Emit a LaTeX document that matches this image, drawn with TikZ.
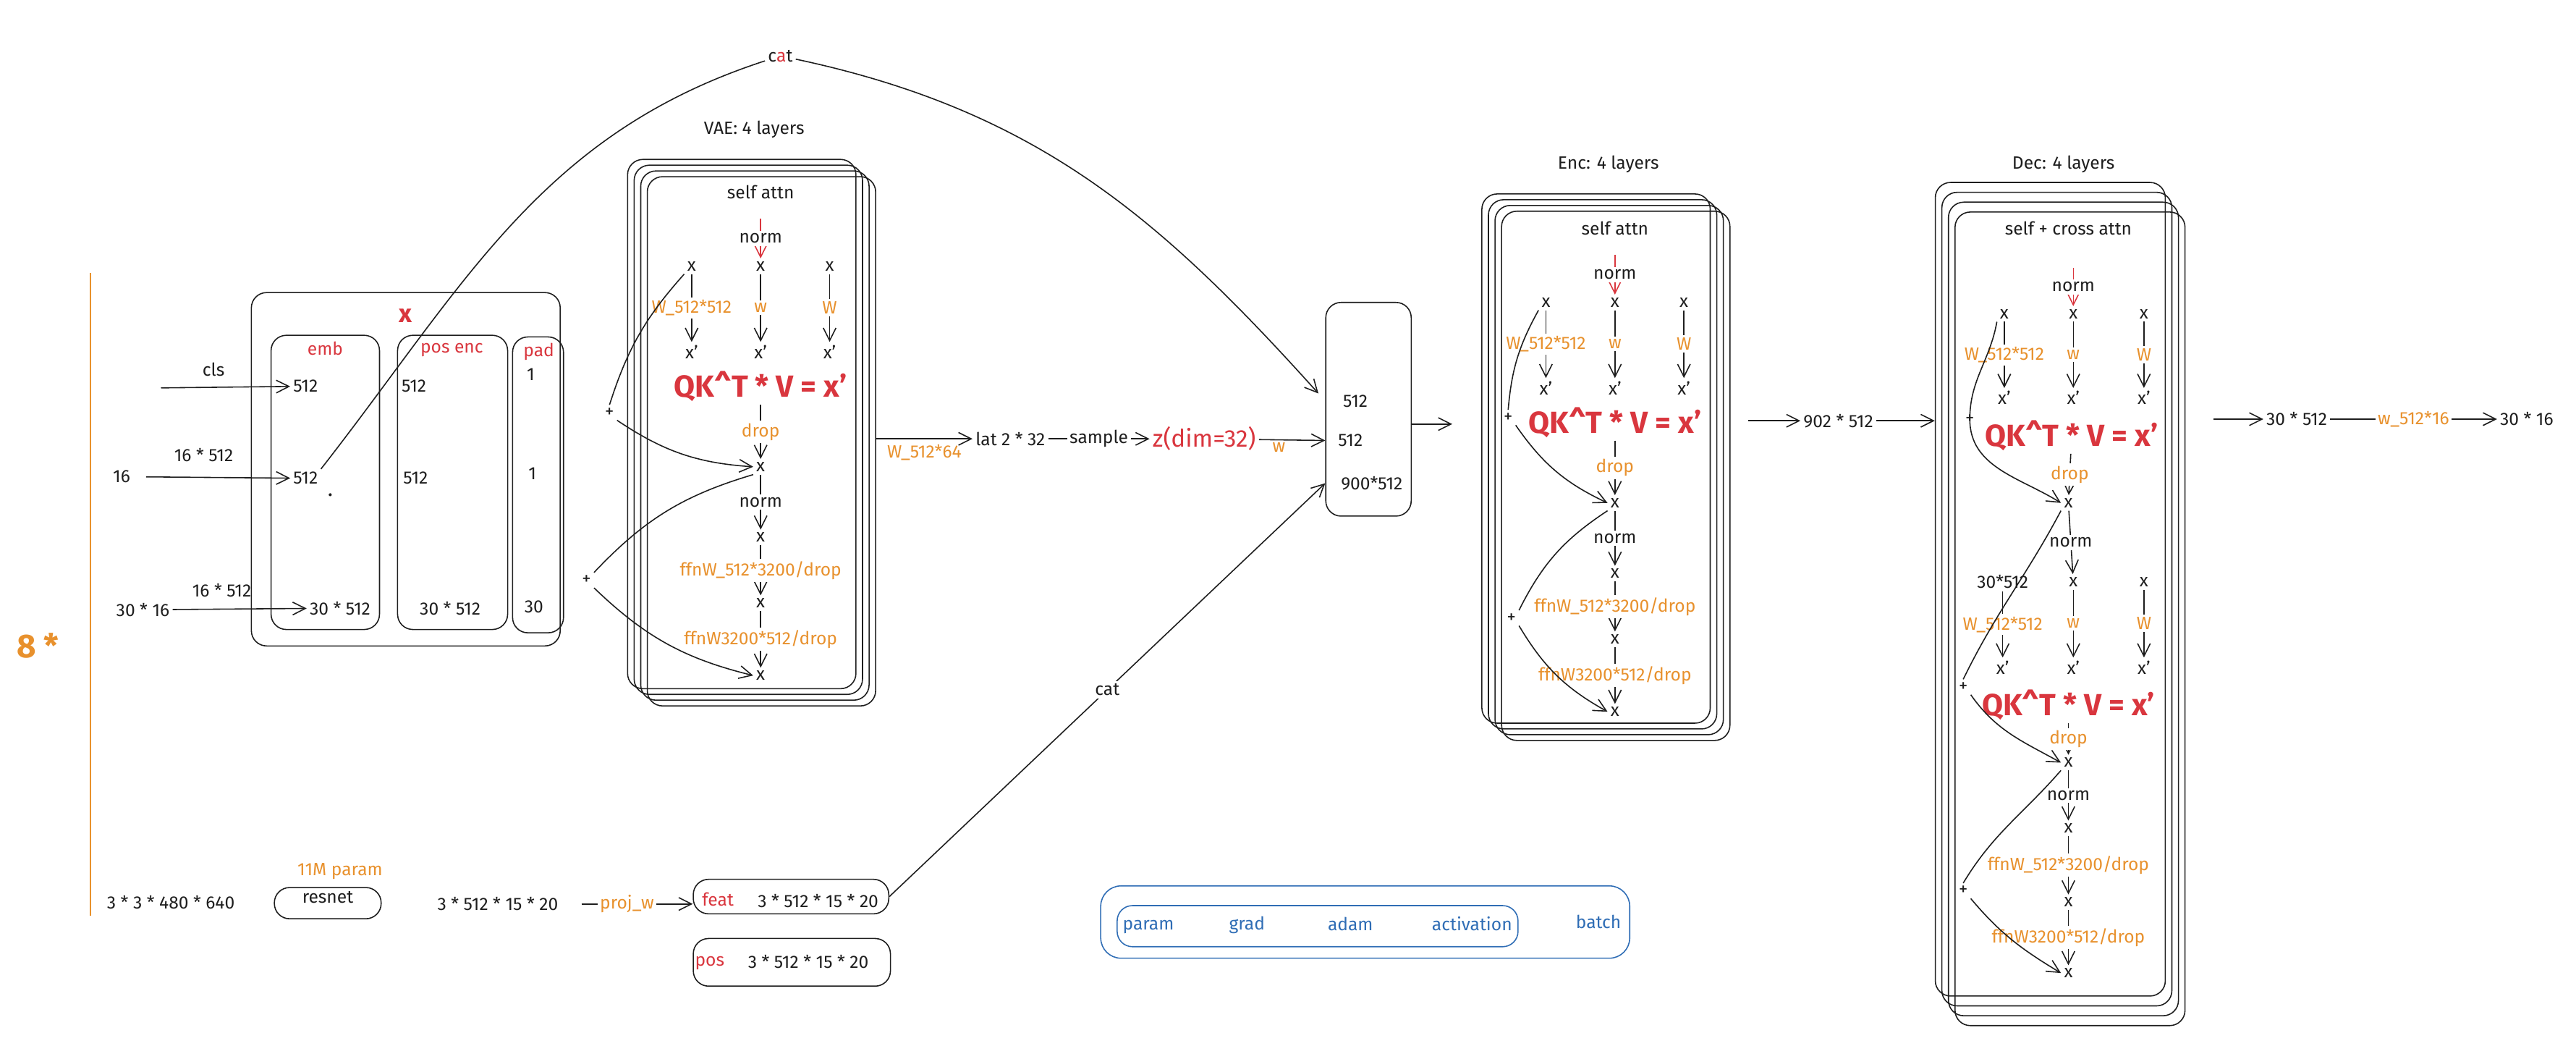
\documentclass[tikz,border=0pt]{standalone}
\usepackage{fontspec}
\setmainfont{Fira Sans}
\usetikzlibrary{arrows.meta,positioning,fit,calc}
\definecolor{Ink}{HTML}{1E1E1E}
\definecolor{Ochre}{HTML}{E8912D}
\definecolor{Brick}{HTML}{D9363E}
\definecolor{Cobalt}{HTML}{2F6DB5}
\tikzset{
  lbl/.style={font=\fontsize{7}{8}\selectfont, text=Ink, inner sep=1pt},
  olab/.style={lbl, text=Ochre},
  wlab/.style={olab, fill=white},
  redlab/.style={lbl, text=Brick},
  bluelab/.style={lbl, text=Cobalt},
  qkeq/.style={font=\fontsize{12}{13}\selectfont\bfseries, text=Brick, inner sep=1pt},
  skbox/.style={draw=#1, rounded corners=6pt, line width=0.45pt, inner sep=0pt},
  skbox/.default={Ink},
  barb/.style={-{Straight Barb[length=5pt,width=5pt]}, line width=0.45pt},
}

\begin{document}
\begin{tikzpicture}[x=0.0227cm, y=-0.0227cm, color=Ink, line width=0.45pt]
  \useasboundingbox (0,0) rectangle (1568,641);

  % repeat marker
  \draw[Ochre, line width=0.6pt] (55,166) -- (55,557);
  \node[font=\fontsize{13}{14}\selectfont\bfseries, text=Ochre] (rep) at (23,393) {8 *};

  % token embedding x
  \node[skbox, fit={(153,178) (341,393)}] (xbox) {};
  \node[skbox, fit={(165,204) (231,383)}] (emb) {};
  \node[skbox, fit={(242,204) (309,383)}] (pe) {};
  \node[skbox, fit={(312,205) (343,385)}] (pad) {};
  \node[redlab, font=\fontsize{10}{11}\selectfont\bfseries] (xlab) at (247,192) {x};
  \node[redlab] (emb-t) at (198,212) {emb};
  \node[redlab] (pe-t) at (275,213) {pos enc};
  \node[redlab] (pad-t) at (328,214) {pad};
  \node[lbl] (emb-a) at (186,235) {512};
  \node[lbl] (emb-b) at (186,291) {512};
  \node[lbl] (emb-c) at (207,370) {30 * 512};
  \node[lbl] (pe-a) at (252,235) {512};
  \node[lbl] (pe-b) at (253,291) {512};
  \node[lbl] (pe-c) at (274,370) {30 * 512};
  \node[lbl] (pad-a) at (323,228) {1};
  \node[lbl] (pad-b) at (324,288) {1};
  \node[lbl] (pad-c) at (325,369) {30};
  \fill (201,301) circle (0.6pt);

  % inputs
  \coordinate (cls-s) at (98,236);
  \node[lbl] (cls) at (130,225) {cls};
  \draw[barb] (cls-s) -- (emb-a);
  \node[lbl] (tok) at (74,290) {16};
  \node[lbl] (tok-dim) at (124,277) {16 * 512};
  \draw[barb, shorten <=5pt] (tok) -- (emb-b);
  \node[lbl] (act) at (87,371) {30 * 16};
  \node[lbl] (act-dim) at (135,359) {16 * 512};
  \draw[barb] (act) -- (emb-c);

  % VAE and encoder stacks
  \foreach \b/\cx/\cy/\bx/\by/\pax/\pay/\pbx/\pby/\ttl in
    {vae/463/162/382/97/371/251/357/353/VAE, enc/983/184/902/118/918/254/920/376/Enc}{
    \foreach \i in {0,...,3}
      \node[skbox, fit={(\bx+4*\i,\by+3.5*\i) (\bx+139+4*\i,\by+322+3.5*\i)}] (\b-box\i) {};
    \node[lbl] (\b-title) at (\cx-4,\by-18) {\ttl: 4 layers};
    \node[lbl] (\b-head) at (\cx,\cy-45) {self attn};
    \coordinate (\b-in) at (\cx,\cy-29);
    \foreach \c/\dx/\wl in {q/-42/W\_512*512, k/0/w, v/42/W}{
      \node[lbl] (\b-\c) at (\cx+\dx,\cy) {x};
      \node[lbl] (\b-\c-p) at (\cx+\dx,\cy+52) {x'};
      \draw[barb] (\b-\c) -- node[wlab] {\wl} (\b-\c-p);
    }
    \draw[barb, Brick] (\b-in) -- node[lbl, fill=white] {norm} (\b-k);
    \node[qkeq] (\b-eq) at (\cx,\cy+73) {QK\textasciicircum T * V = x'};
    \node[lbl] (\b-x1) at (\cx,\cy+122) {x};
    \node[lbl] (\b-x2) at (\cx,\cy+165) {x};
    \node[lbl] (\b-x3) at (\cx,\cy+205) {x};
    \node[lbl] (\b-x4) at (\cx,\cy+249) {x};
    \draw[barb] (\b-eq) -- node[wlab] {drop} (\b-x1);
    \draw[barb] (\b-x1) -- node[lbl, fill=white] {norm} (\b-x2);
    \draw[barb] (\b-x2) -- node[wlab] {ffnW\_512*3200/drop} (\b-x3);
    \draw[barb] (\b-x3) -- node[wlab] {ffnW3200*512/drop} (\b-x4);
    \node[lbl] (\b-pa) at (\pax,\pay) {+};
    \node[lbl] (\b-pb) at (\pbx,\pby) {+};
    \draw (\b-q.south west) to[bend right=12] (\b-pa.north);
    \draw[barb] (\b-pa.south east) to[bend right=15] (\b-x1.west);
    \draw (\b-x1.south west) to[bend right=15] (\b-pb.north east);
    \draw[barb] (\b-pb.south east) to[bend right=15] (\b-x4.west);
  }

  % latent
  \node[lbl] (lat) at (615,267) {lat 2 * 32};
  \node[font=\fontsize{9.5}{10}\selectfont, text=Brick, inner sep=1pt] (zlat) at (733,267) {z(dim=32)};
  \draw[barb] (vae-box3.east |- lat) -- node[olab, below=1pt] {W\_512*64} (lat);
  \draw[barb] (lat) -- node[lbl, fill=white] {sample} (zlat);

  % concat box
  \node[skbox, fit={(807,184) (859,314)}] (cc) {};
  \node[lbl] (cc-a) at (825,244) {512};
  \node[lbl] (cc-b) at (822,268) {512};
  \node[lbl] (cc-c) at (835,294) {900*512};
  \draw[barb] (zlat) -- node[olab, below, pos=0.3] {w} (cc.west |- cc-b);
  \node[lbl, fill=white] (cat1) at (475,34) {c\textcolor{Brick}{a}t};
  \draw (emb-b.north east) to[out=52, in=198] (cat1);
  \draw[barb, shorten >=4pt] (cat1) to[out=-12, in=132] (cc.west |- cc-a);
  \coordinate (enc-in) at (884,258);
  \draw[barb] (cc.east |- enc-in) -- (enc-in);

  % image features
  \node[lbl] (img) at (104,549) {3 * 3 * 480 * 640};
  \node[lbl, skbox, fit={(167,540) (232,559)}] (resnet) {resnet};
  \node[olab] (param) at (207,530) {11M param};
  \node[lbl] (fmap) at (303,550) {3 * 512 * 15 * 20};
  \node[skbox, fit={(422,535) (541,556)}] (feat) {};
  \node[redlab] (feat-t) at (437,547) {feat};
  \node[lbl] (feat-d) at (498,548) {3 * 512 * 15 * 20};
  \node[skbox, fit={(422,571) (542,600)}] (pos) {};
  \node[redlab] (pos-t) at (432,586) {pos};
  \node[lbl] (pos-d) at (492,585) {3 * 512 * 15 * 20};
  \draw[barb, shorten <=8pt] (fmap) -- node[wlab] {proj\_w} (feat.west |- fmap);
  \draw[barb] (feat.east) -- node[lbl, fill=white] (cat2) {cat} (cc.west |- cc-c);

  % memory legend
  \node[skbox=Cobalt, rounded corners=8pt, fit={(670,539) (992,583)}] (mem) {};
  \node[skbox=Cobalt, fit={(680,551) (924,576)}] (state) {};
  \node[bluelab] (l-param) at (699,564) {param};
  \node[bluelab] (l-grad) at (759,563) {grad};
  \node[bluelab] (l-adam) at (822,562) {adam};
  \node[bluelab] (l-act) at (896,562) {activation};
  \node[bluelab] (l-batch) at (973,561) {batch};

  % encoder out
  \node[lbl] (n902) at (1119,256) {902 * 512};
  \draw[barb, shorten <=7pt] (enc-box3.east |- n902) -- (n902);

  % decoder stack
  \foreach \i in {0,...,3}
    \node[skbox, fit={(1178+4*\i,111+6*\i) (1318+4*\i,606+6*\i)}] (dec-box\i) {};
  \draw[barb] (n902) -- (dec-box0.west |- n902);
  \node[lbl] (dec-title) at (1256,100) {Dec: 4 layers};
  \node[lbl] (dec-head) at (1259,139) {self + cross attn};
  \coordinate (dec-in) at (1262,163);
  \foreach \c/\dx/\wl in {q/-42/W\_512*512, k/0/w, v/43/W}{
    \node[lbl] (dec-\c) at (1262+\dx,191) {x};
    \node[lbl] (dec-\c-p) at (1262+\dx,242) {x'};
    \draw[barb] (dec-\c) -- node[wlab] {\wl} (dec-\c-p);
  }
  \draw[barb, Brick] (dec-in) -- node[lbl, fill=white] {norm} (dec-k);
  \node[qkeq] (dec-eq1) at (1261,265) {QK\textasciicircum T * V = x'};
  \node[lbl] (dec-x1) at (1259,306) {x};
  \draw[barb] (dec-eq1) -- node[wlab] {drop} (dec-x1);
  \node[lbl] (dec-q2) at (1219,354) {30*512};
  \node[lbl] (dec-k2) at (1262,354) {x};
  \node[lbl] (dec-v2) at (1305,354) {x};
  \draw[barb] (dec-x1) -- node[lbl, fill=white] {norm} (dec-k2);
  \foreach \c/\dx/\wl in {q2/-43/W\_512*512, k2/0/w, v2/43/W}{
    \node[lbl] (dec-\c-p) at (1262+\dx,406) {x'};
    \draw[barb] (dec-\c) -- node[wlab] {\wl} (dec-\c-p);
  }
  \node[qkeq] (dec-eq2) at (1259,429) {QK\textasciicircum T * V = x'};
  \node[lbl] (dec-x2) at (1259,464) {x};
  \node[lbl] (dec-x3) at (1259,504) {x};
  \node[lbl] (dec-x4) at (1259,549) {x};
  \node[lbl] (dec-x5) at (1259,592) {x};
  \draw[barb] (dec-eq2) -- node[wlab] {drop} (dec-x2);
  \draw[barb] (dec-x2) -- node[lbl, fill=white] {norm} (dec-x3);
  \draw[barb] (dec-x3) -- node[wlab] {ffnW\_512*3200/drop} (dec-x4);
  \draw[barb] (dec-x4) -- node[wlab] {ffnW3200*512/drop} (dec-x5);
  \node[lbl] (dec-pa) at (1199,255) {+};
  \node[lbl] (dec-pb) at (1195,418) {+};
  \node[lbl] (dec-pc) at (1195,542) {+};
  \draw[barb] (dec-q.south west) to[out=-100, in=90] (dec-pa.center)
    to[out=-90, in=148] (dec-x1.west);
  \draw (dec-x1.south west) to[out=-118, in=64] (dec-pb.north);
  \draw[barb] (dec-pb.south east) to[out=-55, in=151] (dec-x2.west);
  \draw (dec-x2.south west) to[out=-131, in=59] (dec-pc.north);
  \draw[barb] (dec-pc.south east) to[out=-50, in=149] (dec-x5.west);

  % output head
  \node[lbl] (n30a) at (1398,255) {30 * 512};
  \node[lbl] (n30b) at (1538,255) {30 * 16};
  \draw[barb, shorten <=11pt] (dec-box3.east |- n30a) -- (n30a);
  \draw[barb] (n30a) -- node[wlab] {w\_512*16} (n30b);
\end{tikzpicture}
\end{document}
